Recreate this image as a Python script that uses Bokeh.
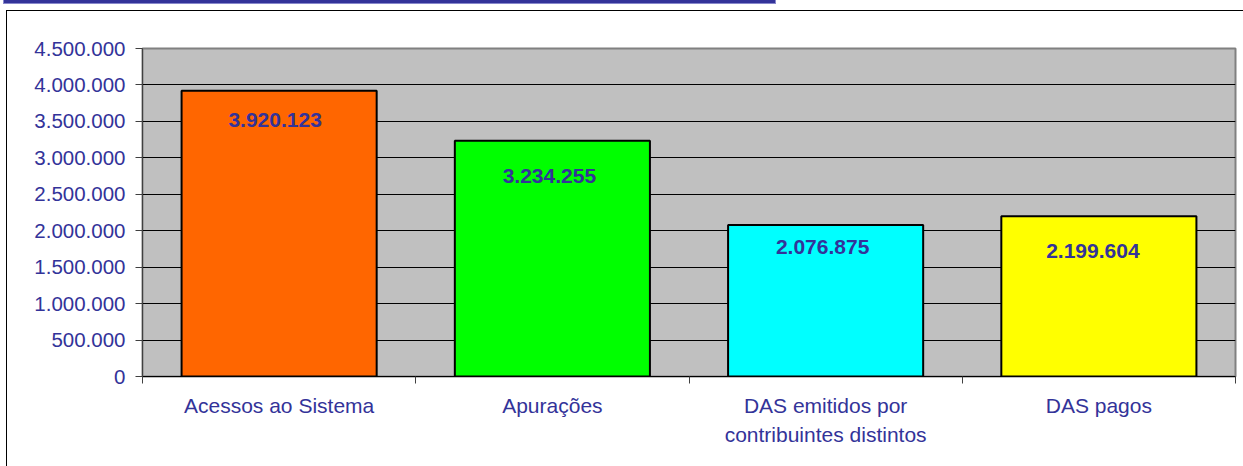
from bokeh.plotting import figure
from bokeh.models import (ColumnDataSource, FixedTicker,
                          GlobalInlineStyleSheet, Range1d)
from bokeh.embed import file_html
from bokeh.resources import INLINE
from bokeh.core.properties import value

# ---- data ----
categories = ["Acessos ao Sistema", "Apurações",
              "DAS emitidos por\ncontribuintes distintos", "DAS pagos"]
values = [3920123, 3234255, 2076875, 2199604]
value_labels = ["3.920.123", "3.234.255", "2.076.875", "2.199.604"]
bar_colors = ["#FF6600", "#00FF00", "#00FFFF", "#FFFF00"]
y_ticks = [0, 500000, 1000000, 1500000, 2000000, 2500000, 3000000,
           3500000, 4000000, 4500000]
y_tick_labels = ["0", "500.000", "1.000.000", "1.500.000", "2.000.000",
                 "2.500.000", "3.000.000", "3.500.000", "4.000.000",
                 "4.500.000"]

# style-only offsets for the value labels (pixels)
label_dy = [29, 35, 22, 35]
label_dx = [-4, -3, -3, -6]

TEXT = "#333399"
FONT = "Liberation Sans"

W, H = 1243, 466
x_pos = [i + 0.5 for i in range(len(categories))]

src = ColumnDataSource(dict(x=x_pos, top=values, color=bar_colors,
                            lab=value_labels, dy=label_dy, dx=label_dx))

p = figure(width=W, height=H, output_backend="svg", toolbar_location=None,
           x_range=Range1d(0, len(categories)), y_range=Range1d(0, 4500000),
           min_border_left=142, min_border_right=8, min_border_top=48,
           min_border_bottom=90)

page_css = """
body{margin:0 !important;overflow:hidden;}
body::before{content:"";position:fixed;left:3px;top:-12px;width:771px;height:14px;
  background:#333399;border:1px solid #8888cc;z-index:10;pointer-events:none;}
body::after{content:"";position:fixed;left:6px;top:10px;width:1260px;height:480px;
  border-top:1.5px solid #000;border-left:1.5px solid #000;z-index:10;pointer-events:none;}
"""
p.stylesheets = [GlobalInlineStyleSheet(css=page_css)]

p.background_fill_color = "#C0C0C0"
p.border_fill_color = "white"
p.outline_line_color = "#808080"
p.outline_line_width = 2

p.vbar(x="x", top="top", bottom=0, width=0.714, source=src,
       fill_color="color", line_color="black", line_width=2)

p.text(x="x", y="top", text="lab", source=src, x_offset="dx", y_offset="dy",
       text_align="center", text_baseline="middle",
       text_font=value(FONT), text_font_size="21px", text_font_style="bold",
       text_color=TEXT)

# grid
p.xgrid.visible = False
p.ygrid.grid_line_color = "black"
p.ygrid.grid_line_width = 1

# y axis
ya = p.yaxis[0]
ya.ticker = FixedTicker(ticks=y_ticks, minor_ticks=[])
ya.major_label_overrides = {t: l for t, l in zip(y_ticks, y_tick_labels)}
ya.major_label_text_font = FONT
ya.major_label_text_font_size = "20.5px"
ya.major_label_text_color = TEXT
ya.major_tick_out = 7
ya.major_tick_in = 0
ya.minor_tick_out = 0
ya.minor_tick_in = 0
ya.major_label_standoff = 10
ya.axis_line_color = "#404040"
ya.major_tick_line_color = "#404040"

# x axis: labels at centres, tick marks at category boundaries
xa = p.xaxis[0]
xa.ticker = FixedTicker(ticks=x_pos, minor_ticks=list(range(len(categories) + 1)))
xa.major_label_overrides = {x: c for x, c in zip(x_pos, categories)}
xa.major_label_text_font = FONT
xa.major_label_text_font_size = "21px"
xa.major_label_text_color = TEXT
xa.major_label_text_line_height = 1.27
xa.major_tick_out = 0
xa.major_tick_in = 0
xa.minor_tick_out = 7
xa.minor_tick_in = 0
xa.minor_tick_line_color = "#404040"
xa.major_label_standoff = 10
xa.axis_line_color = "black"

open("out.html", "w").write(file_html(p, INLINE))
